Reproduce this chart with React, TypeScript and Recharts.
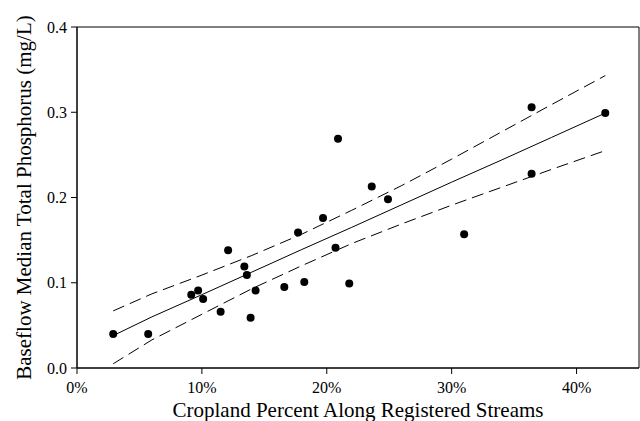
import React from 'react'
import { ComposedChart, Line, Scatter, XAxis, YAxis, ReferenceArea, Label } from 'recharts'

// cropland % along registered streams vs. baseflow median TP
const pointX = [2.9, 5.7, 9.15, 9.7, 10.1, 11.5, 12.1, 13.4, 13.6, 13.9, 14.3, 16.6, 17.7, 18.2, 19.7, 20.7, 20.9, 21.8, 23.6, 24.9, 31.0, 36.4, 36.4, 42.3]
const pointY = [0.040, 0.040, 0.086, 0.091, 0.081, 0.066, 0.138, 0.119, 0.109, 0.059, 0.091, 0.095, 0.159, 0.101, 0.176, 0.141, 0.269, 0.099, 0.213, 0.198, 0.157, 0.306, 0.228, 0.299]

// fitted line and confidence band, read at a few x positions
const bandX = [2.9, 6, 10, 14, 18, 22, 26, 30, 34, 38, 42.3]
const fitY = [0.038, 0.060, 0.086, 0.1125, 0.139, 0.165, 0.1915, 0.218, 0.244, 0.2705, 0.299]
const upperY = [0.067, 0.087, 0.109, 0.132, 0.157, 0.185, 0.214, 0.245, 0.277, 0.309, 0.343]
const lowerY = [0.005, 0.033, 0.063, 0.093, 0.120, 0.146, 0.169, 0.191, 0.212, 0.233, 0.255]

const xTicks = [0, 10, 20, 30, 40]
const yTicks = [0, 0.1, 0.2, 0.3, 0.4]

const points = pointX.map((x, i) => ({ x, y: pointY[i] }))
const band = bandX.map((x, i) => ({ x, fit: fitY[i], upper: upperY[i], lower: lowerY[i] }))

const font = '"Liberation Serif", "DejaVu Serif", serif'
const tickStyle = { fontFamily: font, fontSize: 16, fill: '#000' }

const YTitle = (props: any) => {
   const vb = props.viewBox || {}
   const cx = 31
   const cy = vb.y + vb.height / 2
   return (
      <text x={cx} y={cy} transform={`rotate(-90 ${cx} ${cy})`} textAnchor="middle"
         fontFamily={font} fontSize={21} fill="#000">
         Baseflow Median Total Phosphorus (mg/L)
      </text>
   )
}

const App: React.FC = () => {
   return (
      <div style={{ position: 'absolute', left: 0, top: 0, background: '#fff' }}>
         <ComposedChart width={640} height={421} margin={{ top: 27, right: 1, left: 0, bottom: 0 }}>
            <XAxis type="number" dataKey="x" domain={[0, 45]} ticks={xTicks} allowDataOverflow
               tickFormatter={(v: number) => `${v}%`} tick={tickStyle} tickSize={6} tickMargin={8}
               stroke="#000" height={53}>
               <Label value="Cropland Percent Along Registered Streams" position="insideBottom" offset={4}
                  style={{ fontFamily: font, fontSize: 21, fill: '#000' }} />
            </XAxis>
            <YAxis type="number" domain={[0, 0.4]} ticks={yTicks} allowDataOverflow
               tickFormatter={(v: number) => v.toFixed(1)} tick={tickStyle} tickSize={6} tickMargin={4}
               stroke="#000" width={77} label={<YTitle />} />
            <ReferenceArea x1={0} x2={45} y1={0} y2={0.4} fill="none" stroke="#000" strokeWidth={1} ifOverflow="visible" />
            <Line data={band} dataKey="upper" type="linear" stroke="#000" strokeWidth={1} strokeDasharray="12 6" dot={false} isAnimationActive={false} />
            <Line data={band} dataKey="lower" type="linear" stroke="#000" strokeWidth={1} strokeDasharray="12 6" dot={false} isAnimationActive={false} />
            <Line data={band} dataKey="fit" type="linear" stroke="#000" strokeWidth={1} dot={false} isAnimationActive={false} />
            <Scatter data={points} dataKey="y" fill="#000" isAnimationActive={false}
               shape={(p: any) => <circle cx={p.cx} cy={p.cy} r={4} fill="#000" />} />
         </ComposedChart>
      </div>
   )
}

export default App
